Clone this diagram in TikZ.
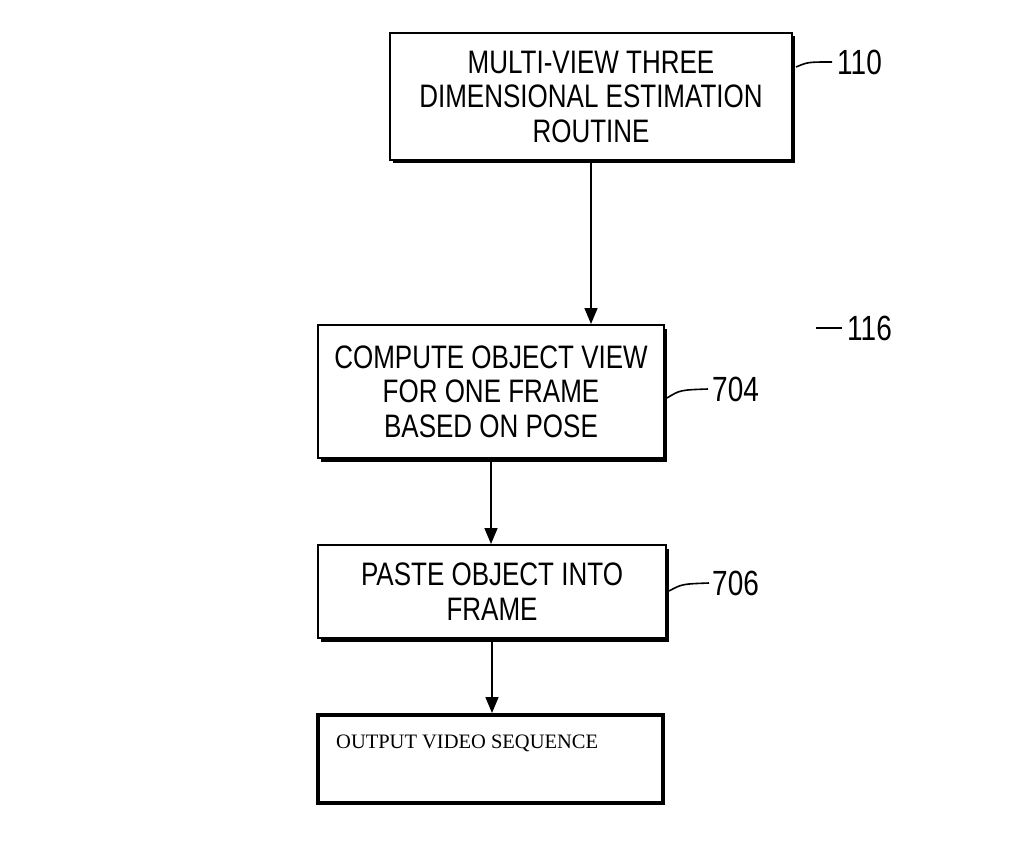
\documentclass[tikz,border=0pt]{standalone}
\usepackage{fontspec}
\newfontfamily\labfont[FakeStretch=0.8]{Liberation Sans}
\newfontfamily\serifout{Liberation Serif}
\usetikzlibrary{shadows,arrows.meta}
\begin{document}
\begin{tikzpicture}[x=1pt,y=1pt,
  stepbox/.style={draw=black, line width=2pt, fill=white, rectangle, inner sep=0pt,
    align=center, font=\labfont\fontsize{32.5}{34.5}\selectfont,
    drop shadow={shadow xshift=3pt, shadow yshift=-3.5pt, fill=black, opacity=1}},
  outbox/.style={draw=black, line width=4pt, fill=white, rectangle, inner sep=0pt},
  reflabel/.style={font=\labfont\fontsize{35}{36}\selectfont, inner sep=0pt, anchor=west},
  flow/.style={line width=1.6pt, -{Triangle[length=16pt,width=13pt]}},
  leader/.style={line width=1.6pt}]
\useasboundingbox (0,0) rectangle (1031,-856);
\fill[white] (0,0) rectangle (1031,-856);

\node[stepbox, minimum width=402pt, minimum height=127pt] (b1) at (591,-96.5)
  {MULTI-VIEW THREE\\DIMENSIONAL ESTIMATION\\ROUTINE};
\node[stepbox, minimum width=346pt, minimum height=133pt] (b2) at (491,-391.5)
  {COMPUTE OBJECT VIEW\\FOR ONE FRAME\\BASED ON POSE};
\node[stepbox, minimum width=348pt, minimum height=93pt] (b3) at (492,-591.5)
  {PASTE OBJECT INTO\\FRAME};
\node[outbox, minimum width=345pt, minimum height=88pt] (b4) at (490.5,-759) {};
\node[anchor=base west, inner sep=0pt, font=\serifout\fontsize{20.5}{24}\selectfont] (t4) at (336,-748)
  {OUTPUT VIDEO SEQUENCE};

\draw[flow] (b1.south) -- (b1.south |- b2.north);
\draw[flow] (b2.south) -- (b2.south |- b3.north);
\draw[flow] (b3.south) -- (b3.south |- b4.north);

\node[reflabel] (l110) at (837,-62) {110};
\node[reflabel] (l116) at (847,-328) {116};
\node[reflabel] (l704) at (712,-389) {704};
\node[reflabel] (l706) at (712,-583) {706};

\coordinate (e110) at (796,-67);
\coordinate (e704) at (667,-398);
\coordinate (e706) at (669,-591);
\coordinate (s116) at (816,-328);

\draw[leader] (e110) .. controls (808,-62) .. ([xshift=-5pt]l110.west);
\draw[leader] (s116) -- ([xshift=-5pt]l116.west);
\draw[leader] (e704) .. controls (680,-390) .. ([xshift=-4pt]l704.west);
\draw[leader] (e706) .. controls (682,-584) .. ([xshift=-3pt]l706.west);
\end{tikzpicture}
\end{document}
